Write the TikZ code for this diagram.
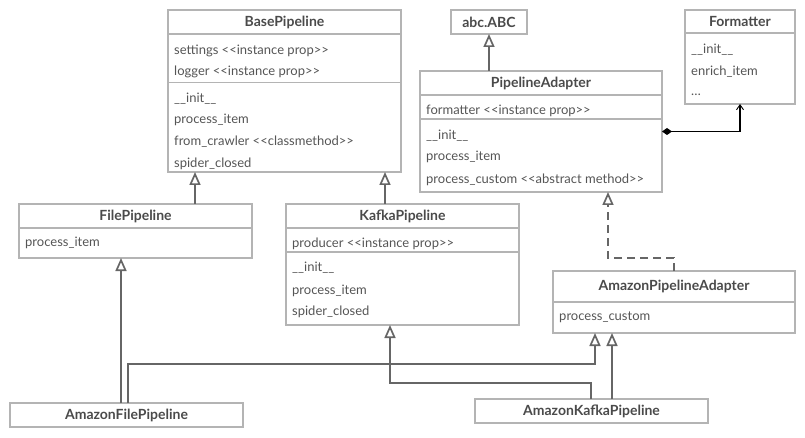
\documentclass[tikz,border=0pt]{standalone}
\usepackage{fontspec}
\setmainfont{Lato}
\usetikzlibrary{arrows.meta,calc}
\definecolor{boxgray}{HTML}{B4B4B4}
\definecolor{linegray}{HTML}{666666}
\definecolor{txtgray}{HTML}{555555}
\definecolor{hdgray}{HTML}{4A4A4A}
\tikzset{
  cls/.style={draw=boxgray, line width=1.6pt, inner sep=0pt, outer sep=0pt, anchor=north west},
  sep/.style={draw=boxgray, line width=1.6pt},
  item/.style={anchor=west, inner sep=0pt, text=txtgray, font=\fontsize{13}{15}\selectfont},
  title/.style={inner sep=0pt, text=hdgray, font=\fontsize{14}{16}\selectfont\bfseries},
  inh/.style={draw=linegray, line width=1.7pt, -{Triangle[open, length=13pt, width=11pt]}},
  real/.style={inh, dash pattern=on 8pt off 5pt},
  comp/.style={draw=black, line width=1.2pt, {Diamond[length=10pt, width=7pt]}-{Straight Barb[length=5pt, width=7pt, line width=0.9pt]}},
}
\newcommand{\us}{\_}
\begin{document}
\begin{tikzpicture}[x=1pt, y=-1pt]
\useasboundingbox (0,0) rectangle (805,438);
% BasePipeline
\node[cls, minimum width=233pt, minimum height=162pt] (bp) at (168,10) {};
\draw[sep] ($(bp.north west)+(0,24)$) -- ($(bp.north east)+(0,24)$);
\draw[sep] ($(bp.north west)+(0,72.5)$) -- ($(bp.north east)+(0,72.5)$);
\node[title] (bpt) at ($(bp.north)+(0,12)$) {BasePipeline};
\node[item] (bp1) at ($(bp.north west)+(6,40.7)$) {settings <{}<instance prop>{}>};
\node[item] (bp2) at ($(bp.north west)+(6,61.7)$) {logger <{}<instance prop>{}>};
\node[item] (bp3) at ($(bp.north west)+(6,89)$) {\us\us init\us\us};
\node[item] (bp4) at ($(bp.north west)+(6,109.5)$) {process\us item};
\node[item] (bp5) at ($(bp.north west)+(6,132)$) {from\us crawler <{}<classmethod>{}>};
\node[item] (bp6) at ($(bp.north west)+(6,153.5)$) {spider\us closed};
% abc.ABC
\node[cls, minimum width=76pt, minimum height=24pt] (abc) at (451,10) {};
\node[title] (abct) at (abc.center) {abc.ABC};
% Formatter
\node[cls, minimum width=110pt, minimum height=94pt] (fm) at (685,10) {};
\draw[sep] ($(fm.north west)+(0,23)$) -- ($(fm.north east)+(0,23)$);
\node[title] (fmt) at ($(fm.north)+(0,11.5)$) {Formatter};
\node[item] (fm1) at ($(fm.north west)+(6,40)$) {\us\us init\us\us};
\node[item] (fm2) at ($(fm.north west)+(6,62)$) {enrich\us item};
\node[item] (fm3) at ($(fm.north west)+(6,85)$) {\ldots};
% PipelineAdapter
\node[cls, minimum width=242pt, minimum height=121pt] (pa) at (420,71) {};
\draw[sep] ($(pa.north west)+(0,24)$) -- ($(pa.north east)+(0,24)$);
\draw[sep] ($(pa.north west)+(0,48)$) -- ($(pa.north east)+(0,48)$);
\node[title] (pat) at ($(pa.north)+(0,12)$) {PipelineAdapter};
\node[item] (pa1) at ($(pa.north west)+(6,40)$) {formatter <{}<instance prop>{}>};
\node[item] (pa2) at ($(pa.north west)+(6,65)$) {\us\us init\us\us};
\node[item] (pa3) at ($(pa.north west)+(6,86)$) {process\us item};
\node[item] (pa4) at ($(pa.north west)+(6,109)$) {process\us custom <{}<abstract method>{}>};
% FilePipeline
\node[cls, minimum width=233pt, minimum height=54pt] (fp) at (19,204) {};
\draw[sep] ($(fp.north west)+(0,24)$) -- ($(fp.north east)+(0,24)$);
\node[title] (fpt) at ($(fp.north)+(0,12)$) {FilePipeline};
\node[item] (fp1) at ($(fp.north west)+(6,39)$) {process\us item};
% KafkaPipeline
\node[cls, minimum width=233pt, minimum height=121pt] (kp) at (286,204) {};
\draw[sep] ($(kp.north west)+(0,24)$) -- ($(kp.north east)+(0,24)$);
\draw[sep] ($(kp.north west)+(0,48)$) -- ($(kp.north east)+(0,48)$);
\node[title] (kpt) at ($(kp.north)+(0,12)$) {KafkaPipeline};
\node[item] (kp1) at ($(kp.north west)+(6,40)$) {producer <{}<instance prop>{}>};
\node[item] (kp2) at ($(kp.north west)+(6,64)$) {\us\us init\us\us};
\node[item] (kp3) at ($(kp.north west)+(6,87)$) {process\us item};
\node[item] (kp4) at ($(kp.north west)+(6,108)$) {spider\us closed};
% AmazonPipelineAdapter
\node[cls, minimum width=242pt, minimum height=62pt] (apa) at (553,271) {};
\draw[sep] ($(apa.north west)+(0,31)$) -- ($(apa.north east)+(0,31)$);
\node[title] (apat) at ($(apa.north)+(0,15.5)$) {AmazonPipelineAdapter};
\node[item] (apa1) at ($(apa.north west)+(6,46)$) {process\us custom};
% AmazonFilePipeline
\node[cls, minimum width=233pt, minimum height=24pt] (afp) at (10,403) {};
\node[title] (afpt) at (afp.center) {AmazonFilePipeline};
% AmazonKafkaPipeline
\node[cls, minimum width=233pt, minimum height=24pt] (akp) at (475,399) {};
\node[title] (akpt) at (akp.center) {AmazonKafkaPipeline};
% connectors
\draw[inh] ($(fp.north west)+(176,0)$) -- ($(bp.south west)+(27,0)$);
\draw[inh] ($(kp.north west)+(99,0)$) -- ($(bp.south west)+(217,0)$);
\draw[inh] (pa.north -| abc.south) -- (abc.south);
\draw[comp] (pa.east) -| (fm.south);
\draw[inh] ($(afp.north west)+(111,0)$) -- ($(fp.south west)+(102,0)$);
\draw[inh] ($(afp.north west)+(118,0)$) |- ($(apa.south west)+(42,31)$) -- ($(apa.south west)+(42,0)$);
\draw[inh] ($(akp.north west)+(116,0)$) |- ($(kp.south west)+(104,58)$) -- ($(kp.south west)+(104,0)$);
\draw[inh] ($(akp.north west)+(137,0)$) -- ($(apa.south west)+(59,0)$);
\draw[real] ($(apa.north west)+(121,0)$) |- ($(pa.south west)+(188,66)$) -- ($(pa.south west)+(188,0)$);
\end{tikzpicture}
\end{document}
